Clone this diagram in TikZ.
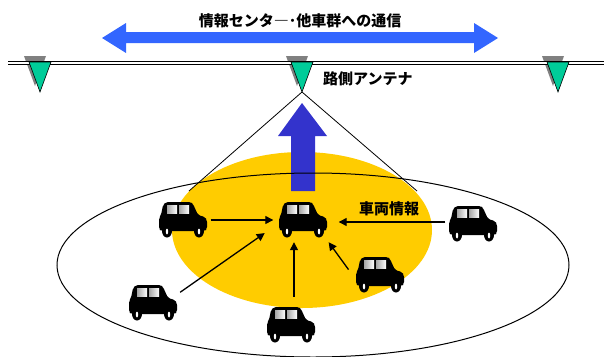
\documentclass[tikz,border=0pt]{standalone}
\usepackage{fontspec}
\setmainfont{Noto Sans CJK JP}
\usetikzlibrary{arrows.meta}

\definecolor{antgreen}{HTML}{00CC99}
\definecolor{areayellow}{HTML}{FFCC00}
\definecolor{linkblue}{HTML}{3366FF}
\definecolor{upblue}{HTML}{3333CC}

\tikzset{
  label/.style={font=\fontsize{15}{18}\selectfont\bfseries, inner sep=0pt},
  carbox/.style={minimum width=49pt, minimum height=36pt, inner sep=0pt},
  link/.style={line width=1.3pt, -{Triangle[length=8pt,width=8pt]},
    shorten <=3pt, shorten >=5pt},
  % small car facing right, origin at its middle
  car/.pic={
    \fill[black, rounded corners=2pt] (-24,9) -- (-24,-2) -- (-22,-5) -- (-20,-15)
      -- (-17,-18) -- (8,-18) -- (10,-16) -- (15,-5) -- (22,-3) -- (24,0)
      -- (24,9) -- (22,11) -- (-22,11) -- cycle;
    \shade[left color=gray!70, right color=white] (-16,-15) rectangle (-6,-7);
    \shade[left color=gray!70, right color=white] (-4,-15) rectangle (6,-7);
    \fill[black] (-16,11) ellipse (5 and 6.5);
    \fill[black] (16,11) ellipse (5 and 6.5);
    \fill[white] (-16,11.5) ellipse (1.2 and 3);
    \fill[white] (16,11.5) ellipse (1.2 and 3);
  },
  % roadside antenna, origin at the tip
  antshadow/.pic={
    \fill[gray] (-16,-36) -- (6,-36) -- (-5,-6) -- cycle;
  },
  antenna/.pic={
    \filldraw[fill=antgreen, draw=black, line width=0.6pt] (-11,-30) -- (11,-30) -- (0,0) -- cycle;
  },
}

\begin{document}
\begin{tikzpicture}[x=1pt, y=-1pt]
  \useasboundingbox (0,0) rectangle (604,356);

  % Draw the antennas along the road
  \pic at (40,92) {antshadow};
  \pic at (302,92) {antshadow};
  \pic at (558,92) {antshadow};
  \draw[double, double distance=1.6pt, line width=0.8pt] (8,63) -- (604,63);
  \pic at (40,92) {antenna};
  \pic at (302,92) {antenna};
  \pic at (558,92) {antenna};
  \coordinate (antC) at (302,92);
  \node[label, anchor=west] (antText) at (323,79) {路側アンテナ};

  % Draw the link to the centre and other cars
  \fill[linkblue] (102,38) -- (126,23) -- (126,32) -- (474,32) -- (474,23)
    -- (498,38) -- (474,53) -- (474,43) -- (126,43) -- (126,53) -- cycle;
  \node[label] (linkText) at (300,21) {情報センタ―･他車群への通信};

  % Draw the antenna's area
  \fill[areayellow] (302,230) ellipse (130 and 78);
  \fill[upblue] (302,103) -- (327,136) -- (315,136) -- (315,191)
    -- (291,191) -- (291,136) -- (278,136) -- cycle;
  \draw[line width=1pt] (313,265) ellipse (256 and 92);
  \coordinate (coverL) at (189,191);
  \coordinate (coverR) at (417,191);
  \draw[line width=0.8pt] (antC) -- (coverL);
  \draw[line width=0.8pt] (antC) -- (coverR);

  % Draw the cars
  \node[carbox] (carC) at (303,220) {};
  \pic at (carC) {car};
  \node[carbox] (carL) at (183,220) {};
  \pic at (carL) {car};
  \node[carbox] (carR) at (473,224) {};
  \pic at (carR) {car};
  \node[carbox] (carLR) at (380,275) {};
  \pic at (carLR) {car};
  \node[carbox] (carLL) at (153,303) {};
  \pic at (carLL) {car};
  \node[carbox] (carB) at (291,325) {};
  \pic at (carB) {car};

  % Draw the car-to-car messages
  \draw[link] (carL.east) -- (carC.west);
  \draw[link, shorten >=11pt] ([yshift=2pt]carR.west) -- ([yshift=2pt]carR.west -| carC.east);
  \node[label] (carText) at (389,209) {車両情報};
  \draw[link, shorten <=10pt, shorten >=4pt] ([xshift=3pt]carB.north) -- ([xshift=3pt]carB.north |- carC.south);
  \draw[link] ([yshift=9pt]carLL.east) -- ([xshift=-9.5pt,yshift=8pt]carC.south west);
  \draw[link] ([xshift=-5pt,yshift=3pt]carLR.west) -- ([xshift=-2pt]carC.south east);
\end{tikzpicture}
\end{document}
